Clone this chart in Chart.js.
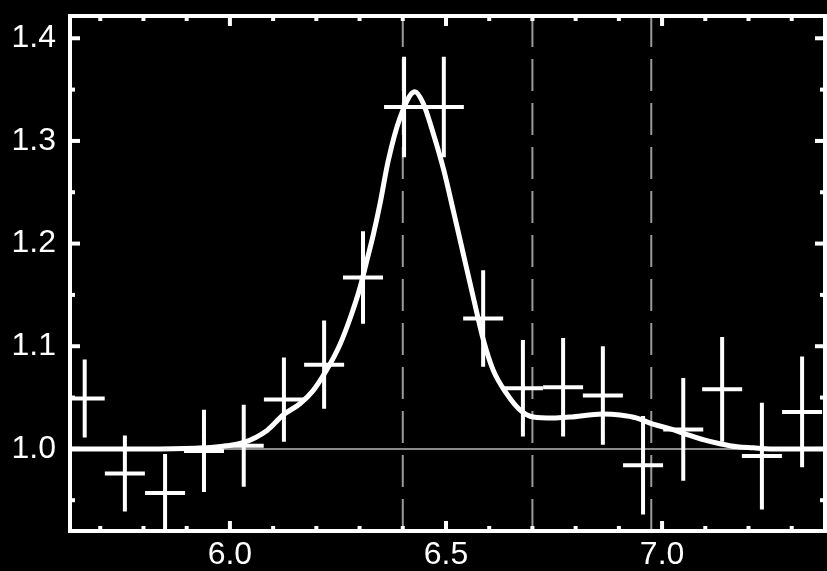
<!DOCTYPE html>
<html>
<head>
<meta charset="utf-8">
<script src="https://cdn.jsdelivr.net/npm/chart.js@4/dist/chart.umd.min.js"></script>
<style>
  html, body { margin: 0; padding: 0; background: #000; }
  #ratioChart { display: block; }
</style>
</head>
<body>
<canvas id="ratioChart" width="827" height="571"></canvas>
<script>
// binned data ratio (keV)
const binCenters = [5.664, 5.757, 5.850, 5.940, 6.032, 6.125, 6.218, 6.308, 6.403, 6.495,
  6.586, 6.678, 6.771, 6.863, 6.956, 7.049, 7.139, 7.231, 7.324];
const binHalfWidth = 0.0463;
const ratio = [1.049, 0.976, 0.957, 0.998, 1.003, 1.048, 1.082, 1.167, 1.333, 1.333,
  1.127, 1.059, 1.060, 1.052, 0.984, 1.019, 1.058, 0.993, 1.036];
const ratioErr = [0.038, 0.037, 0.038, 0.040, 0.040, 0.041, 0.043, 0.045, 0.049, 0.049,
  0.047, 0.047, 0.048, 0.048, 0.048, 0.050, 0.051, 0.052, 0.054];

// model curve
const modelEnergy = [5.630, 5.838, 5.938, 6.030, 6.086, 6.123, 6.162, 6.193, 6.224, 6.255,
  6.278, 6.301, 6.316, 6.332, 6.347, 6.366, 6.394, 6.428, 6.447, 6.470,
  6.494, 6.517, 6.540, 6.563, 6.586, 6.609, 6.640, 6.671, 6.702, 6.748,
  6.787, 6.863, 6.903, 6.942, 6.979, 7.019, 7.058, 7.095, 7.134, 7.174,
  7.211, 7.250, 7.377];
const modelRatio = [1.000, 1.000, 1.001, 1.006, 1.018, 1.033, 1.044, 1.057, 1.077, 1.102,
  1.127, 1.157, 1.182, 1.209, 1.238, 1.280, 1.323, 1.348, 1.337, 1.308,
  1.273, 1.232, 1.190, 1.148, 1.107, 1.077, 1.054, 1.038, 1.031, 1.030,
  1.031, 1.034, 1.033, 1.030, 1.024, 1.0195, 1.014, 1.009, 1.005, 1.002,
  1.001, 1.000, 1.000];

// reference lines
const lineEnergies = [6.40, 6.70, 6.975];
const unityRatio = 1.0;

// axes
const xRange = [5.63, 7.377];
const yRange = [0.92, 1.4217];
const xMajorTicks = [6.0, 6.5, 7.0];
const xMinorTicks = [5.7, 5.8, 5.9, 6.1, 6.2, 6.3, 6.4, 6.6, 6.7, 6.8, 6.9, 7.1, 7.2, 7.3];
const yMajorTicks = [1.0, 1.1, 1.2, 1.3, 1.4];
const yMinorTicks = [0.95, 1.05, 1.15, 1.25, 1.35];

const hBars = binCenters.flatMap((x, i) => [
  { x: x - binHalfWidth, y: ratio[i] },
  { x: x + binHalfWidth, y: ratio[i] },
  { x: x, y: null },
]);
const vBars = binCenters.flatMap((x, i) => [
  { x: x, y: ratio[i] - ratioErr[i] },
  { x: x, y: ratio[i] + ratioErr[i] },
  { x: x, y: null },
]);
const dashLines = lineEnergies.flatMap((x) => [
  { x: x, y: yRange[0] },
  { x: x, y: yRange[1] },
  { x: x, y: null },
]);
const model = modelEnergy.map((x, i) => ({ x: x, y: modelRatio[i] }));

const frameAndTicks = {
  id: "frameAndTicks",
  afterDraw(chart) {
    const { ctx, chartArea: a, scales } = chart;
    ctx.save();
    ctx.fillStyle = "#fff";
    const tick = (v, len, axis) => {
      if (axis === "x") {
        const p = scales.x.getPixelForValue(v);
        ctx.fillRect(p - 2, a.bottom - 2 - len, 4, len);
        ctx.fillRect(p - 2, a.top + 2, 4, len);
      } else {
        const p = scales.y.getPixelForValue(v);
        ctx.fillRect(a.left + 2, p - 2, len, 4);
        ctx.fillRect(a.right - 2 - len, p - 2, len, 4);
      }
    };
    xMajorTicks.forEach((v) => tick(v, 8, "x"));
    xMinorTicks.forEach((v) => tick(v, 3, "x"));
    yMajorTicks.forEach((v) => tick(v, 8, "y"));
    yMinorTicks.forEach((v) => tick(v, 3, "y"));
    ctx.strokeStyle = "#fff";
    ctx.lineWidth = 4;
    ctx.strokeRect(a.left, a.top, a.right - a.left, a.bottom - a.top);
    ctx.restore();
  },
};

const tickFont = { family: "'Liberation Sans', Arial, sans-serif", size: 32 };

new Chart(document.getElementById("ratioChart"), {
  type: "line",
  data: {
    datasets: [
      {
        data: [{ x: xRange[0], y: unityRatio }, { x: xRange[1], y: unityRatio }],
        borderColor: "#8a8a8a",
        borderWidth: 2,
        order: 5,
      },
      {
        data: dashLines,
        borderColor: "#9a9a9a",
        borderWidth: 2,
        borderDash: [32, 12],
        order: 4,
      },
      {
        data: model,
        borderColor: "#fff",
        borderWidth: 5,
        cubicInterpolationMode: "monotone",
        order: 3,
      },
      {
        data: hBars,
        borderColor: "#fff",
        borderWidth: 4,
        order: 2,
      },
      {
        data: vBars,
        borderColor: "#fff",
        borderWidth: 4,
        order: 1,
      },
    ],
  },
  options: {
    responsive: false,
    animation: false,
    spanGaps: false,
    elements: { point: { radius: 0 }, line: { borderCapStyle: "butt", fill: false } },
    layout: { padding: { top: 16, right: 2, left: 0, bottom: 0 }, autoPadding: false },
    plugins: { legend: { display: false }, tooltip: { enabled: false } },
    scales: {
      x: {
        type: "linear",
        min: xRange[0],
        max: xRange[1],
        grid: { display: false },
        border: { display: false },
        afterBuildTicks: (s) => { s.ticks = xMajorTicks.map((v) => ({ value: v })); },
        afterFit: (s) => { s.height = 40; s.paddingLeft = 0; s.paddingRight = 0; },
        ticks: {
          color: "#fff",
          font: tickFont,
          padding: -3,
          maxRotation: 0,
          callback: (v) => v.toFixed(1),
        },
      },
      y: {
        type: "linear",
        min: yRange[0],
        max: yRange[1],
        grid: { display: false },
        border: { display: false },
        afterBuildTicks: (s) => { s.ticks = yMajorTicks.map((v) => ({ value: v })); },
        afterFit: (s) => { s.width = 70; s.paddingTop = 0; s.paddingBottom = 0; },
        ticks: {
          color: "#fff",
          font: tickFont,
          padding: 6,
          callback: (v) => v.toFixed(1),
        },
      },
    },
  },
  plugins: [frameAndTicks],
});
</script>
</body>
</html>
